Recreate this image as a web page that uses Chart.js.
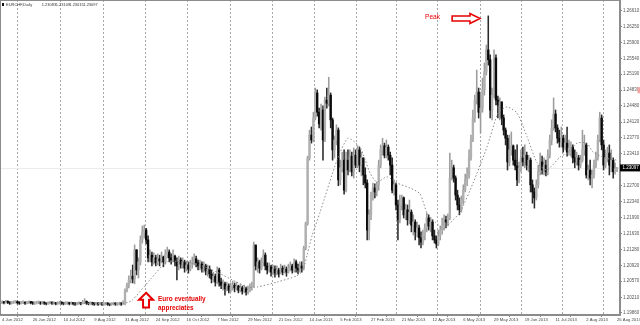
<!DOCTYPE html>
<html><head><meta charset="utf-8">
<script src="https://cdn.jsdelivr.net/npm/chart.js@4.4.1/dist/chart.umd.min.js"></script>
<style>html,body{margin:0;padding:0;background:#fff;overflow:hidden}canvas{display:block}</style>
</head><body>
<canvas id="c" width="640" height="325"></canvas>
<script>
const symbolTitle = 'EURCHF,Daily';
const titleValues = ['1.23083', '1.23109', '1.23015', '1.23097'];
const firstOpen = 1.2009;

const closes = [
1.2010,1.2009,1.2011,1.2010,1.2008,1.2009,1.2010,1.2011,1.2009,1.2008,
1.2009,1.2010,1.2008,1.2009,1.2010,1.2009,1.2008,1.2008,1.2009,1.2010,
1.2008,1.2009,1.2008,1.2007,1.2008,1.2009,1.2008,1.2008,1.2007,1.2008,
1.2009,1.2008,1.2007,1.2008,1.2008,1.2007,1.2008,1.2007,1.2006,1.2007,
1.2008,1.2007,1.2009,1.2012,1.2008,1.2007,1.2008,1.2007,1.2006,1.2007,
1.2006,1.2007,1.2006,1.2006,1.2007,1.2006,1.2005,1.2006,1.2007,1.2006,
1.2006,1.2007,1.2006,1.2010,
1.2035,1.2048,1.2060,1.2068,1.2062,1.2127,1.2082,1.2100,1.2149,1.2167,1.2171,1.2149,1.2109,1.2115,1.2100,1.2109,1.2098,1.2107,1.2102,1.2111,1.2100,1.2118,1.2122,1.2109,
1.2104,1.2113,1.2100,1.2091,1.2104,1.2095,1.2100,1.2086,1.2093,1.2084,
1.2095,1.2100,1.2107,1.2098,1.2091,1.2095,1.2086,1.2091,1.2080,1.2084,
1.2073,1.2062,1.2068,1.2055,1.2082,1.2055,1.2048,1.2051,1.2040,1.2046,
1.2037,1.2044,1.2048,1.2042,1.2046,1.2037,1.2042,1.2035,1.2040,1.2033,
1.2037,1.2044,
1.2048,1.2138,1.2091,1.2100,1.2086,1.2100,1.2115,1.2091,1.2082,1.2089,1.2077,1.2084,1.2075,1.2082,1.2073,1.2086,1.2077,1.2084,1.2077,1.2086,1.2091,1.2082,1.2100,1.2086,1.2082,1.2091,1.2086,1.2131,1.2185,
1.2332,1.2383,1.2372,1.2421,1.2477,1.2434,1.2408,1.2439,1.2372,1.2461,
1.2454,1.2472,1.2417,1.2350,1.2372,1.2394,1.2283,1.2310,1.2327,1.2260,
1.2327,1.2305,1.2336,1.2301,1.2338,1.2316,1.2350,1.2316,1.2332,1.2294,
1.2276,1.2171,1.2205,1.2249,1.2265,1.2256,1.2272,1.2316,1.2350,1.2359,
1.2338,1.2356,1.2338,1.2316,1.2260,1.2272,1.2227,1.2194,1.2227,1.2243,
1.2205,1.2216,1.2194,1.2211,1.2182,1.2189,1.2167,1.2176,1.2154,1.2144,
1.2160,1.2176,1.2198,1.2180,1.2189,1.2158,1.2149,1.2140,1.2158,1.2171,
1.2180,1.2194,1.2189,1.2198,1.2287,1.2310,1.2287,1.2249,1.2227,1.2216,
1.2238,1.2260,1.2283,1.2294,1.2332,1.2372,1.2421,1.2461,1.2479,1.2434,
1.2443,1.2484,1.2524,1.2573,1.2551,1.2439,1.2472,1.2555,1.2461,1.2450,
1.2457,1.2421,1.2394,1.2376,1.2323,1.2350,1.2359,1.2327,1.2314,1.2283,
1.2310,1.2332,1.2323,1.2338,1.2316,1.2327,1.2272,1.2256,1.2243,1.2272,
1.2301,1.2323,1.2305,1.2316,1.2301,1.2338,1.2372,1.2399,1.2430,1.2399,
1.2376,1.2368,1.2376,1.2356,1.2365,1.2345,1.2354,
1.2356,1.2332,1.2323,1.2332,1.2316,1.2327,
1.2350,1.2361,1.2294,1.2305,1.2287,1.2294,
1.2316,1.2332,1.2372,1.2421,1.2361,1.2316,1.2332,1.2343,1.2316,1.2327,1.2301,1.23083,1.23097
];
const highs = [
1.2013,1.2012,1.2014,1.2013,1.2011,1.2012,1.2013,1.2014,1.2013,1.2011,
1.2012,1.2013,1.2011,1.2012,1.2013,1.2012,1.2011,1.2011,1.2012,1.2013,
1.2011,1.2012,1.2011,1.2010,1.2011,1.2012,1.2011,1.2011,1.2010,1.2011,
1.2012,1.2011,1.2010,1.2011,1.2011,1.2010,1.2011,1.2010,1.2009,1.2010,
1.2011,1.2010,1.2014,1.2018,1.2013,1.2010,1.2011,1.2010,1.2009,1.2010,
1.2009,1.2010,1.2009,1.2009,1.2010,1.2009,1.2008,1.2009,1.2010,1.2009,
1.2009,1.2010,1.2009,1.2013,
1.2040,1.2053,1.2069,1.2082,1.2093,1.2138,1.2127,1.2109,1.2158,1.2180,1.2182,1.2175,1.2158,1.2127,1.2122,1.2120,1.2115,1.2118,1.2115,1.2122,1.2113,1.2127,1.2133,1.2127,
1.2118,1.2127,1.2115,1.2109,1.2113,1.2109,1.2109,1.2104,1.2102,1.2100,
1.2104,1.2111,1.2118,1.2113,1.2104,1.2104,1.2100,1.2100,1.2095,1.2093,
1.2091,1.2082,1.2077,1.2073,1.2089,1.2086,1.2064,1.2060,1.2055,1.2055,
1.2051,1.2053,1.2057,1.2053,1.2055,1.2048,1.2051,1.2046,1.2048,1.2044,
1.2046,1.2051,
1.2055,1.2144,1.2135,1.2109,1.2104,1.2109,1.2127,1.2120,1.2098,1.2098,1.2093,1.2093,1.2091,1.2091,1.2086,1.2095,1.2091,1.2093,1.2089,1.2095,1.2100,1.2095,1.2107,1.2104,1.2095,1.2100,1.2100,1.2135,1.2189,
1.2336,1.2394,1.2401,1.2434,1.2488,1.2484,1.2443,1.2452,1.2448,1.2468,
1.2488,1.2512,1.2477,1.2421,1.2381,1.2406,1.2399,1.2327,1.2345,1.2350,
1.2345,1.2350,1.2350,1.2345,1.2354,1.2350,1.2359,1.2356,1.2345,1.2332,
1.2310,1.2283,1.2216,1.2256,1.2276,1.2274,1.2278,1.2327,1.2361,1.2376,
1.2365,1.2372,1.2361,1.2345,1.2332,1.2283,1.2276,1.2238,1.2249,1.2249,
1.2245,1.2229,1.2227,1.2238,1.2216,1.2205,1.2194,1.2189,1.2182,1.2167,
1.2171,1.2185,1.2209,1.2205,1.2198,1.2194,1.2171,1.2158,1.2171,1.2180,
1.2198,1.2205,1.2202,1.2207,1.2343,1.2327,1.2316,1.2292,1.2260,1.2243,
1.2247,1.2272,1.2296,1.2310,1.2350,1.2383,1.2439,1.2472,1.2528,1.2488,
1.2479,1.2510,1.2544,1.2584,1.2649,1.2562,1.2488,1.2573,1.2562,1.2470,
1.2466,1.2457,1.2428,1.2399,1.2383,1.2383,1.2390,1.2361,1.2350,1.2361,
1.2323,1.2350,1.2356,1.2361,1.2345,1.2338,1.2332,1.2283,1.2265,1.2283,
1.2316,1.2343,1.2336,1.2332,1.2327,1.2350,1.2383,1.2417,1.2466,1.2439,
1.2406,1.2394,1.2401,1.2383,1.2383,1.2401,1.2372,
1.2368,1.2361,1.2350,1.2345,1.2338,1.2338,
1.2394,1.2383,1.2365,1.2316,1.2327,1.2305,
1.2327,1.2345,1.2383,1.2434,1.2428,1.2372,1.2350,1.2356,1.2361,1.2350,1.2332,1.2321,1.23109
];
const lows = [
1.2007,1.2006,1.2008,1.2007,1.2005,1.2006,1.2007,1.2008,1.2006,1.2005,
1.2006,1.2007,1.2005,1.2006,1.2007,1.2006,1.2005,1.2005,1.2006,1.2007,
1.2005,1.2006,1.2005,1.2004,1.2005,1.2006,1.2005,1.2005,1.2004,1.2005,
1.2006,1.2005,1.2004,1.2005,1.2005,1.2004,1.2005,1.2004,1.2003,1.2004,
1.2005,1.2004,1.2006,1.2007,1.2005,1.2004,1.2005,1.2004,1.2003,1.2004,
1.2003,1.2004,1.2003,1.2003,1.2004,1.2003,1.2002,1.2003,1.2004,1.2003,
1.2003,1.2004,1.2003,1.2005,
1.2004,1.2033,1.2042,1.2053,1.2053,1.2051,1.2071,1.2064,1.2093,1.2142,1.2153,1.2140,1.2100,1.2100,1.2091,1.2095,1.2091,1.2093,1.2091,1.2098,1.2089,1.2095,1.2109,1.2100,
1.2095,1.2100,1.2091,1.2060,1.2082,1.2086,1.2086,1.2077,1.2080,1.2075,
1.2080,1.2086,1.2093,1.2089,1.2082,1.2082,1.2077,1.2077,1.2071,1.2068,
1.2064,1.2053,1.2055,1.2046,1.2051,1.2046,1.2040,1.2037,1.2026,1.2035,
1.2031,1.2033,1.2037,1.2033,1.2037,1.2031,1.2033,1.2028,1.2031,1.2026,
1.2028,1.2033,
1.2037,1.2044,1.2082,1.2077,1.2075,1.2082,1.2091,1.2082,1.2073,1.2077,1.2068,1.2071,1.2066,1.2071,1.2066,1.2075,1.2071,1.2075,1.2068,1.2075,1.2080,1.2075,1.2077,1.2077,1.2073,1.2077,1.2077,1.2082,1.2127,
1.2182,1.2327,1.2365,1.2368,1.2417,1.2425,1.2399,1.2394,1.2327,1.2368,
1.2443,1.2448,1.2399,1.2327,1.2332,1.2361,1.2270,1.2272,1.2301,1.2251,
1.2256,1.2294,1.2301,1.2292,1.2287,1.2310,1.2310,1.2301,1.2292,1.2272,
1.2265,1.2149,1.2149,1.2194,1.2238,1.2243,1.2247,1.2260,1.2310,1.2338,
1.2332,1.2332,1.2327,1.2294,1.2254,1.2249,1.2216,1.2149,1.2187,1.2216,
1.2198,1.2194,1.2182,1.2185,1.2167,1.2160,1.2149,1.2156,1.2138,1.2131,
1.2138,1.2149,1.2167,1.2171,1.2167,1.2149,1.2142,1.2131,1.2136,1.2149,
1.2162,1.2171,1.2176,1.2180,1.2194,1.2283,1.2278,1.2238,1.2216,1.2205,
1.2211,1.2229,1.2256,1.2270,1.2287,1.2327,1.2368,1.2412,1.2452,1.2421,
1.2388,1.2434,1.2472,1.2517,1.2539,1.2421,1.2417,1.2466,1.2450,1.2421,
1.2417,1.2406,1.2383,1.2361,1.2305,1.2314,1.2338,1.2316,1.2305,1.2270,
1.2276,1.2301,1.2314,1.2310,1.2305,1.2301,1.2256,1.2231,1.2220,1.2238,
1.2265,1.2294,1.2296,1.2294,1.2292,1.2294,1.2332,1.2361,1.2394,1.2390,
1.2365,1.2356,1.2356,1.2345,1.2350,1.2336,1.2338,
1.2336,1.2321,1.2310,1.2316,1.2305,1.2310,
1.2323,1.2338,1.2287,1.2283,1.2272,1.2265,
1.2287,1.2310,1.2327,1.2368,1.2350,1.2305,1.2310,1.2323,1.2294,1.2301,1.2287,1.2296,1.23015
];

// dotted moving average (bar index, price)
const maIdx  = [19, 40, 63, 67.6, 77, 85.8, 95.2, 103, 111.9, 119.7, 127.5, 132.7, 143.1, 153.5, 156.6, 158.7, 161.3, 165.5, 174.3, 180, 186.3, 191.5, 195.1, 200.3, 205.5, 212.3, 217.5, 221.1, 224.2, 229.5, 231.5, 238.3, 245.1, 252.3, 258.1, 262.7, 268, 273.2, 278.4, 283.6, 290.3, 294, 299.2, 304.4, 307.5, 313.7, 320];
const maVals = [1.2009, 1.2008, 1.2007, 1.2014, 1.2060, 1.2100, 1.2100, 1.2093, 1.2077, 1.2060, 1.2044, 1.2044, 1.2055, 1.2069, 1.2082, 1.2115, 1.2158, 1.2211, 1.2327, 1.2376, 1.2356, 1.2298, 1.2278, 1.2290, 1.2276, 1.2265, 1.2252, 1.2209, 1.2194, 1.2174, 1.2180, 1.2211, 1.2276, 1.2356, 1.2432, 1.2446, 1.2432, 1.2379, 1.2321, 1.2305, 1.2334, 1.2343, 1.2365, 1.2365, 1.2345, 1.2332, 1.2327];

const monthGridIdx = [19.3, 41.6, 64.5, 85.3, 107.7, 129.6, 151.4, 174.3, 194.6, 215.4, 237.8, 260.1, 280.9, 302.3];
const dateTickIdx = [0, 16, 32, 48, 64, 80, 96, 112, 128, 144, 160, 176, 192, 208, 224, 240, 256, 272, 288, 304, 320];
const dateLabels = ['4 Jun 2012','26 Jun 2012','10 Jul 2012','9 Aug 2012','31 Aug 2012','24 Sep 2012','16 Oct 2012','7 Nov 2012','29 Nov 2012','21 Dec 2012','14 Jan 2013','5 Feb 2013','27 Feb 2013','21 Mar 2013','12 Apr 2013','6 May 2013','29 May 2013','19 Jun 2013','11 Jul 2013','2 Aug 2013','26 Aug 2013'];
const priceTicks = [1.26610,1.26250,1.25900,1.25540,1.25190,1.24830,1.24480,1.24120,1.23770,1.23410,1.23060,1.22700,1.22340,1.21990,1.21630,1.21280,1.20920,1.20570,1.20210,1.19860];
const lastPrice = 1.23097;
const alertPrice = 1.24830;

const yMin = 1.19815, yMax = 1.26844;
const xMin = -1.04, xMax = 321.54;

const FONT = 'Liberation Sans';
const opens = closes.map((c, i) => i === 0 ? firstOpen : closes[i - 1]);
const isUp = closes.map((c, i) => c >= opens[i]);

const wickData = closes.map((c, i) => ({x: i, y: [lows[i], highs[i]]}));
const bodyData = closes.map((c, i) => ({x: i, y: [opens[i], c]}));
const maData = maIdx.map((v, k) => ({x: v, y: maVals[k]}));

const annot = {
  peakText: {x: 220.1, y: 1.2646},
  peakArrow: {x0: 234.2, x1: 248.7, y: 1.2643},
  euroText: {x: 81.2, y1: 1.2016, y2: 1.1997},
  upArrow: {x0: 71.3, x1: 78.6, yTop: 1.2031, yBase: 1.1998}
};

const decor = {
  id: 'decor',
  beforeDatasetsDraw(chart) {
    const {ctx, chartArea: a, scales: {y}} = chart;
    const py = Math.round(y.getPixelForValue(lastPrice)) + 0.5;
    ctx.save();
    ctx.strokeStyle = '#ececec'; ctx.lineWidth = 1;
    ctx.beginPath(); ctx.moveTo(a.left, py); ctx.lineTo(a.right, py); ctx.stroke();
    ctx.restore();
  },
  afterDraw(chart) {
    const {ctx, chartArea: a, scales: {x, y}} = chart;
    ctx.save();
    ctx.strokeStyle = '#8c8c8c'; ctx.lineWidth = 1;
    ctx.strokeRect(a.left + 0.5, a.top + 0.5, a.right - a.left - 1, a.bottom - a.top - 1);
    ctx.fillStyle = '#111';
    ctx.fillRect(2, 3, 2, 3);
    ctx.font = '4px "' + FONT + '"';
    ctx.textBaseline = 'middle'; ctx.textAlign = 'left';
    ctx.fillStyle = '#333';
    ctx.fillText(symbolTitle, 6, 5);
    const tx = [41.7, 55.7, 69.3, 83.3];
    titleValues.forEach((t, k) => ctx.fillText(t, tx[k], 5));
    const py = y.getPixelForValue(lastPrice);
    ctx.fillStyle = '#000';
    ctx.fillRect(a.right, py - 3.5, 640 - a.right, 7);
    ctx.fillStyle = '#fff';
    ctx.font = '4.5px "' + FONT + '"';
    ctx.fillText(lastPrice.toFixed(5), a.right + 2.5, py);
    const pa = y.getPixelForValue(alertPrice);
    ctx.fillStyle = '#f2a4a4';
    ctx.fillRect(637.5, pa - 3, 2.5, 6);
    ctx.fillStyle = '#e60000';
    ctx.font = '6.6px "' + FONT + '"';
    ctx.fillText('Peak', x.getPixelForValue(annot.peakText.x), y.getPixelForValue(annot.peakText.y));
    const ax0 = x.getPixelForValue(annot.peakArrow.x0), ax1 = x.getPixelForValue(annot.peakArrow.x1);
    const ay = y.getPixelForValue(annot.peakArrow.y);
    const axh = ax1 - 10;
    ctx.beginPath();
    ctx.moveTo(ax0, ay - 2.5); ctx.lineTo(axh, ay - 2.5); ctx.lineTo(axh, ay - 5);
    ctx.lineTo(ax1, ay); ctx.lineTo(axh, ay + 5); ctx.lineTo(axh, ay + 2.5);
    ctx.lineTo(ax0, ay + 2.5); ctx.closePath();
    ctx.fillStyle = '#fff'; ctx.fill();
    ctx.strokeStyle = '#e60000'; ctx.lineWidth = 1.6; ctx.stroke();
    ctx.fillStyle = '#e60000';
    ctx.font = 'bold 6.4px "' + FONT + '"';
    const ex = x.getPixelForValue(annot.euroText.x);
    ctx.fillText('Euro eventually', ex, y.getPixelForValue(annot.euroText.y1));
    ctx.fillText('appreciates', ex, y.getPixelForValue(annot.euroText.y2));
    const ux0 = x.getPixelForValue(annot.upArrow.x0), ux1 = x.getPixelForValue(annot.upArrow.x1);
    const uyT = y.getPixelForValue(annot.upArrow.yTop), uyB = y.getPixelForValue(annot.upArrow.yBase);
    const ucx = (ux0 + ux1) / 2, uyh = uyT + 7;
    ctx.beginPath();
    ctx.moveTo(ucx, uyT); ctx.lineTo(ux1, uyh); ctx.lineTo(ucx + 3, uyh); ctx.lineTo(ucx + 3, uyB);
    ctx.lineTo(ucx - 3, uyB); ctx.lineTo(ucx - 3, uyh); ctx.lineTo(ux0, uyh); ctx.closePath();
    ctx.fillStyle = '#fff'; ctx.fill();
    ctx.strokeStyle = '#e60000'; ctx.lineWidth = 2; ctx.stroke();
    ctx.restore();
  }
};

Chart.defaults.font.family = FONT;

new Chart(document.getElementById('c'), {
  type: 'bar',
  data: {
    datasets: [
      {type: 'line', data: maData, xAxisID: 'x', yAxisID: 'y', borderColor: '#8a8a8a', borderWidth: 1, borderDash: [1.5, 2], pointRadius: 0, tension: 0.2, fill: false},
      {data: bodyData, grouped: false, barThickness: 1.7, minBarLength: 1, borderWidth: 0,
       backgroundColor: isUp.map(u => u ? '#b0b0b0' : '#0a0a0a')},
      {data: wickData, grouped: false, barThickness: 0.9, borderWidth: 0,
       backgroundColor: isUp.map(u => u ? '#9c9c9c' : '#2a2a2a')}
    ]
  },
  options: {
    responsive: false,
    animation: false,
    devicePixelRatio: 1,
    layout: {padding: 0},
    plugins: {legend: {display: false}, tooltip: {enabled: false}},
    scales: {
      x: {
        type: 'linear', position: 'bottom', min: xMin, max: xMax, offset: false, bounds: 'data',
        afterBuildTicks: s => { s.ticks = dateTickIdx.map(v => ({value: v})); },
        afterFit: s => { s.height = 10; s.paddingLeft = 0; s.paddingRight = 0; },
        ticks: {autoSkip: false, maxRotation: 0, minRotation: 0, align: 'start', padding: 0,
                font: {size: 4.2, family: FONT}, color: '#444',
                callback: (v, i) => dateLabels[i]},
        grid: {drawOnChartArea: false, drawTicks: true, tickLength: 2, tickColor: '#888'},
        border: {display: true, color: '#8c8c8c'}
      },
      xg: {
        type: 'linear', position: 'bottom', min: xMin, max: xMax, offset: false, bounds: 'data',
        afterBuildTicks: s => { s.ticks = monthGridIdx.map(v => ({value: v})); },
        afterFit: s => { s.height = 0; s.paddingLeft = 0; s.paddingRight = 0; },
        ticks: {display: false},
        grid: {drawOnChartArea: true, drawTicks: false, color: '#a8a8a8', lineWidth: 1},
        border: {display: false, dash: [2, 2]}
      },
      y: {
        type: 'linear', position: 'right', min: yMin, max: yMax, bounds: 'data',
        afterBuildTicks: s => { s.ticks = priceTicks.map(v => ({value: v})); },
        afterFit: s => { s.width = 20; s.paddingTop = 0; s.paddingBottom = 0; },
        ticks: {padding: 1, font: {size: 4.5, family: FONT}, color: '#555',
                callback: v => v.toFixed(5)},
        grid: {drawOnChartArea: false, drawTicks: true, tickLength: 2, tickColor: '#888'},
        border: {display: true, color: '#8c8c8c'}
      }
    }
  },
  plugins: [decor]
});
</script>
</body></html>
